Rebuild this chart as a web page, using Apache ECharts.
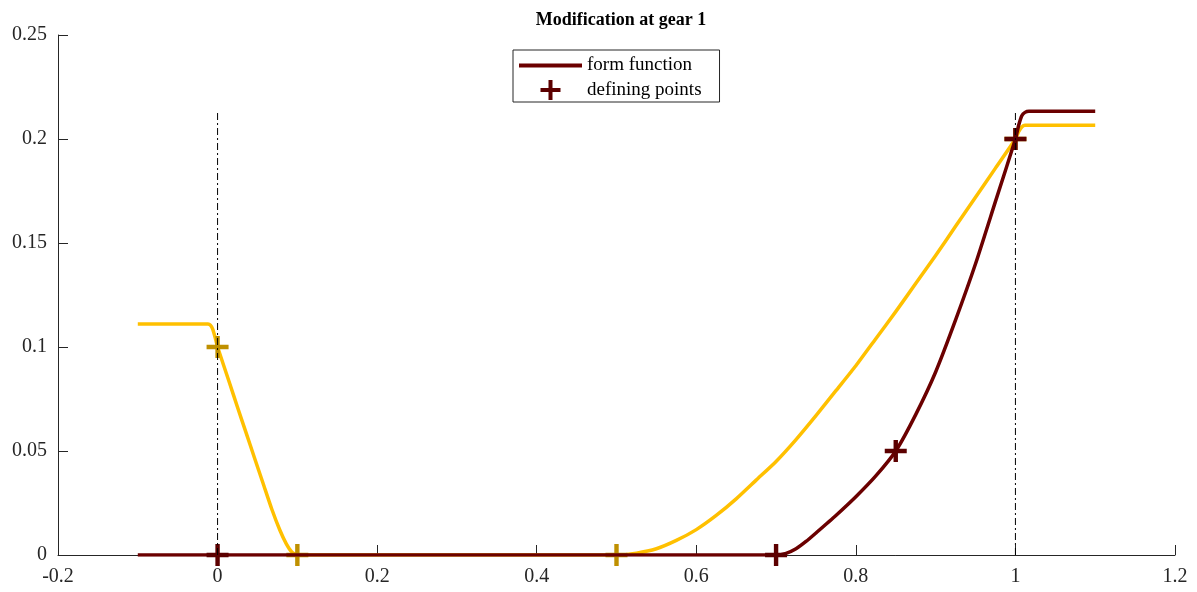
<!DOCTYPE html>
<html>
<head>
<meta charset="utf-8">
<script src="https://cdn.jsdelivr.net/npm/echarts@6/dist/echarts.min.js"></script>
<style>html,body{margin:0;padding:0;background:#fff}#c{width:1197px;height:592px}</style>
</head>
<body>
<div id="c"></div>
<script>
// ---- data ----
const titleText = 'Modification at gear 1';
const xTicks = [-0.2, 0, 0.2, 0.4, 0.6, 0.8, 1, 1.2];
const yTicks = [0, 0.05, 0.1, 0.15, 0.2, 0.25];

const yellowX = [-0.1, -0.012, -0.009, -0.006, -0.003, 0, 0.015, 0.025, 0.036, 0.046, 0.057, 0.068, 0.078, 0.086, 0.093, 0.1,
  0.5, 0.525, 0.55, 0.575, 0.6, 0.625, 0.65, 0.675, 0.7, 0.725, 0.75, 0.775, 0.8, 0.825, 0.85, 0.875, 0.9, 0.925, 0.95, 0.975, 1.0, 1.004, 1.008, 1.012, 1.1];
const yellowY = [0.111, 0.111, 0.1105, 0.1085, 0.1045, 0.1, 0.0827, 0.071, 0.0585, 0.047, 0.0345, 0.022, 0.012, 0.0055, 0.0015, 0,
  0, 0.0009, 0.003, 0.007, 0.0122, 0.019, 0.027, 0.036, 0.045, 0.0555, 0.067, 0.079, 0.091, 0.104, 0.117, 0.1305, 0.144, 0.158, 0.172, 0.186, 0.2, 0.2035, 0.2058, 0.2066, 0.2066];

const redX = [-0.1, 0.7, 0.7125, 0.725, 0.7375, 0.75, 0.775, 0.8, 0.825, 0.85, 0.875, 0.9, 0.925, 0.95, 0.975, 1.0, 1.004, 1.008, 1.012, 1.017, 1.1];
const redY = [0, 0, 0.0008, 0.003, 0.0065, 0.0106, 0.019, 0.028, 0.038, 0.05, 0.0675, 0.088, 0.113, 0.14, 0.17, 0.2, 0.2065, 0.2112, 0.2128, 0.2133, 0.2133];

const yellowPtsX = [0, 0.1, 0.5, 1];
const yellowPtsY = [0.1, 0, 0, 0.2];
const redPtsX = [0, 0.7, 0.85, 1];
const redPtsY = [0, 0, 0.05, 0.2];

const guideX = [0, 1];
const guideTop = 0.2135;

const legendNames = ['form function', 'defining points'];

// ---- build ----
const zip = (xs, ys) => xs.map((x, i) => [x, ys[i]]);
const PLUS = 'path://M8.8,0H13.2V8.8H22V13.2H13.2V22H8.8V13.2H0V8.8H8.8Z';
const LINEICON = 'path://M0,0H63V4H0Z';
const FONT = '"Liberation Serif", "Times New Roman", serif';
const fmt = v => String(parseFloat(Number(v).toFixed(3)));
const AX = '#262626';

const guideSeries = guideX.map((gx, i) => ({
  name: 'guide' + i,
  type: 'line',
  data: [[gx, 0], [gx, guideTop]],
  showSymbol: false,
  silent: true,
  z: 7,
  lineStyle: { color: '#000', width: 1, type: [7, 3, 2, 3] }
}));

const chart = echarts.init(document.getElementById('c'), null, { renderer: 'canvas' });
chart.setOption({
  animation: false,
  backgroundColor: '#fff',
  title: {
    text: titleText,
    left: 616, textAlign: 'center', top: 6,
    textStyle: { fontFamily: FONT, fontWeight: 'bold', fontSize: 18, color: '#000' }
  },
  legend: {
    data: [
      { name: legendNames[0], icon: LINEICON, itemStyle: { color: '#6B0000', opacity: 1 } },
      { name: legendNames[1], icon: PLUS, itemStyle: { color: '#5C0000', opacity: 1 } }
    ],
    orient: 'vertical',
    left: 513, top: 50,
    padding: [6, 18, 2, 6],
    itemWidth: 63, itemHeight: 20, itemGap: 5,
    borderColor: AX, borderWidth: 1,
    backgroundColor: '#fff',
    textStyle: { fontFamily: FONT, fontSize: 19, color: '#000' }
  },
  grid: { left: 58, right: 22, top: 35, bottom: 37, containLabel: false },
  xAxis: {
    type: 'value', min: xTicks[0], max: xTicks[xTicks.length - 1], interval: 0.2,
    axisLine: { show: true, onZero: false, lineStyle: { color: AX, width: 1 } },
    axisTick: { show: true, inside: true, length: 10, lineStyle: { color: AX } },
    splitLine: { show: false },
    axisLabel: { fontFamily: FONT, fontSize: 20, color: AX, margin: 12, formatter: fmt }
  },
  yAxis: {
    type: 'value', min: yTicks[0], max: yTicks[yTicks.length - 1], interval: 0.05,
    axisLine: { show: true, onZero: false, lineStyle: { color: AX, width: 1 } },
    axisTick: { show: true, inside: true, length: 10, lineStyle: { color: AX } },
    splitLine: { show: false },
    axisLabel: { fontFamily: FONT, fontSize: 20, color: AX, margin: 11, formatter: fmt }
  },
  series: [
    {
      name: 'yellow form', type: 'line', data: zip(yellowX, yellowY),
      showSymbol: false, smooth: 0.2, z: 2,
      lineStyle: { color: '#FFC000', width: 3.5, join: 'round' }, itemStyle: { color: '#FFC000' }
    },
    {
      name: 'yellow points', type: 'scatter', data: zip(yellowPtsX, yellowPtsY),
      symbol: PLUS, symbolSize: 22, z: 3,
      itemStyle: { color: '#BF9000', opacity: 1 }
    },
    {
      name: legendNames[0], type: 'line', data: zip(redX, redY),
      showSymbol: false, smooth: 0.2, z: 5,
      lineStyle: { color: '#6B0000', width: 3.5, join: 'round' }, itemStyle: { color: '#6B0000' }
    },
    {
      name: legendNames[1], type: 'scatter', data: zip(redPtsX, redPtsY),
      symbol: PLUS, symbolSize: 22, z: 6,
      itemStyle: { color: '#5C0000', opacity: 1 }
    }
  ].concat(guideSeries)
});
</script>
</body>
</html>
